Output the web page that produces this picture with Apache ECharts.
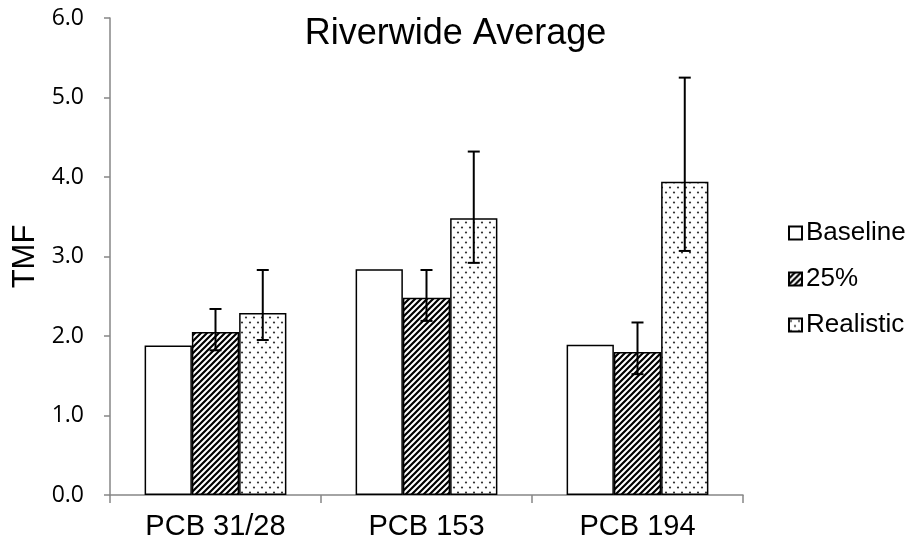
<!DOCTYPE html>
<html lang="en">
<head>
<meta charset="UTF-8" />
<title>Riverwide Average</title>
<script src="https://cdn.jsdelivr.net/npm/echarts@6/dist/echarts.min.js"></script>
<style>
  html, body { margin: 0; padding: 0; background: #fff; }
  #chart { width: 911px; height: 548px; }
</style>
</head>
<body>
<div id="chart"></div>
<script>
var categories = ['PCB 31/28', 'PCB 153', 'PCB 194'];
var seriesNames = ['Baseline', '25%', 'Realistic'];
var baseline = [1.88, 2.84, 1.89];
var quarter = [2.05, 2.48, 1.80];
var realistic = [2.29, 3.48, 3.94];
// error bar ends (low / high)
var quarterLow = [1.82, 2.19, 1.52];
var quarterHigh = [2.34, 2.83, 2.17];
var realisticLow = [1.95, 2.92, 3.07];
var realisticHigh = [2.83, 4.32, 5.25];
var yMin = 0, yMax = 6, yStep = 1;

// fill patterns
function stripeTile() {
    var c = document.createElement('canvas');
    c.width = 6; c.height = 6;
    var g = c.getContext('2d');
    g.fillStyle = '#fff';
    g.fillRect(0, 0, 6, 6);
    g.strokeStyle = '#000';
    g.lineWidth = 2.2;
    g.beginPath();
    g.moveTo(-1, 7); g.lineTo(7, -1);
    g.moveTo(-1, 1); g.lineTo(1, -1);
    g.moveTo(5, 7); g.lineTo(7, 5);
    g.stroke();
    return c;
}
function dotTile() {
    var c = document.createElement('canvas');
    c.width = 8; c.height = 10;
    var g = c.getContext('2d');
    g.fillStyle = '#fff';
    g.fillRect(0, 0, 8, 10);
    g.fillStyle = '#333';
    g.beginPath(); g.arc(2, 2.5, 1.1, 0, Math.PI * 2); g.fill();
    g.beginPath(); g.arc(6, 7.5, 1.1, 0, Math.PI * 2); g.fill();
    return c;
}

var BAR_FRAC = 0.224;

function errorItem(params, api) {
    var band = api.size([1, 0])[0];
    var bw = band * BAR_FRAC;
    var cx = api.coord([api.value(0), 0])[0] + (api.value(3) - 1) * bw;
    var yLo = api.coord([api.value(0), api.value(1)])[1];
    var yHi = api.coord([api.value(0), api.value(2)])[1];
    var st = { stroke: '#000', lineWidth: 2 };
    return {
        type: 'group',
        children: [
            { type: 'line', shape: { x1: cx, y1: yHi, x2: cx, y2: yLo }, style: st },
            { type: 'line', shape: { x1: cx - 6, y1: yHi, x2: cx + 6, y2: yHi }, style: st },
            { type: 'line', shape: { x1: cx - 6, y1: yLo, x2: cx + 6, y2: yLo }, style: st }
        ]
    };
}

var errData = [];
categories.forEach(function (c, i) {
    errData.push([i, quarterLow[i], quarterHigh[i], 1]);
    errData.push([i, realisticLow[i], realisticHigh[i], 2]);
});

var chart = echarts.init(document.getElementById('chart'));
var fills = ['#fff', { image: stripeTile(), repeat: 'repeat' }, { image: dotTile(), repeat: 'repeat' }];
var values = [baseline, quarter, realistic];

var series = seriesNames.map(function (n, i) {
    return {
        name: n,
        type: 'bar',
        data: values[i],
        barWidth: (BAR_FRAC * 100) + '%',
        barGap: '0%',
        itemStyle: { color: fills[i], borderColor: '#000', borderWidth: 1.5 }
    };
});
series.push({
    type: 'custom',
    name: 'err',
    renderItem: errorItem,
    data: errData,
    encode: { x: 0, y: [1, 2] },
    z: 10
});

chart.setOption({
    animation: false,
    title: {
        text: 'Riverwide Average',
        left: 'center',
        top: 11,
        textStyle: { fontFamily: 'Liberation Sans', fontSize: 36, fontWeight: 'normal', color: '#000' }
    },
    legend: {
        data: seriesNames,
        orient: 'vertical',
        left: 783,
        top: 213,
        icon: 'rect',
        itemWidth: 13,
        itemHeight: 13,
        itemGap: 16,
        textStyle: { fontFamily: 'Liberation Sans', fontSize: 26, color: '#000', lineHeight: 30, padding: [0, 0, 0, -1] }
    },
    grid: { left: 110, right: 168, top: 18, bottom: 53, outerBoundsMode: 'none' },
    xAxis: {
        type: 'category',
        data: categories,
        axisLine: { lineStyle: { color: '#868686', width: 1.5 } },
        axisTick: { show: true, length: 8, lineStyle: { color: '#868686', width: 1.5 } },
        axisLabel: { fontFamily: 'Liberation Sans', fontSize: 29, color: '#000', margin: 17 }
    },
    yAxis: {
        type: 'value',
        min: yMin,
        max: yMax,
        interval: yStep,
        name: 'TMF',
        nameLocation: 'middle',
        nameRotate: 90,
        nameGap: 67,
        nameTextStyle: { fontFamily: 'Liberation Sans', fontSize: 31, color: '#000' },
        axisLine: { show: true, lineStyle: { color: '#868686', width: 1.5 } },
        axisTick: { show: true, length: 6, lineStyle: { color: '#868686', width: 1.5 } },
        splitLine: { show: false },
        axisLabel: {
            fontFamily: 'Open Sans',
            fontSize: 23,
            color: '#000',
            margin: 26,
            formatter: function (v) { return v.toFixed(1); }
        }
    },
    series: series
});
</script>
</body>
</html>
